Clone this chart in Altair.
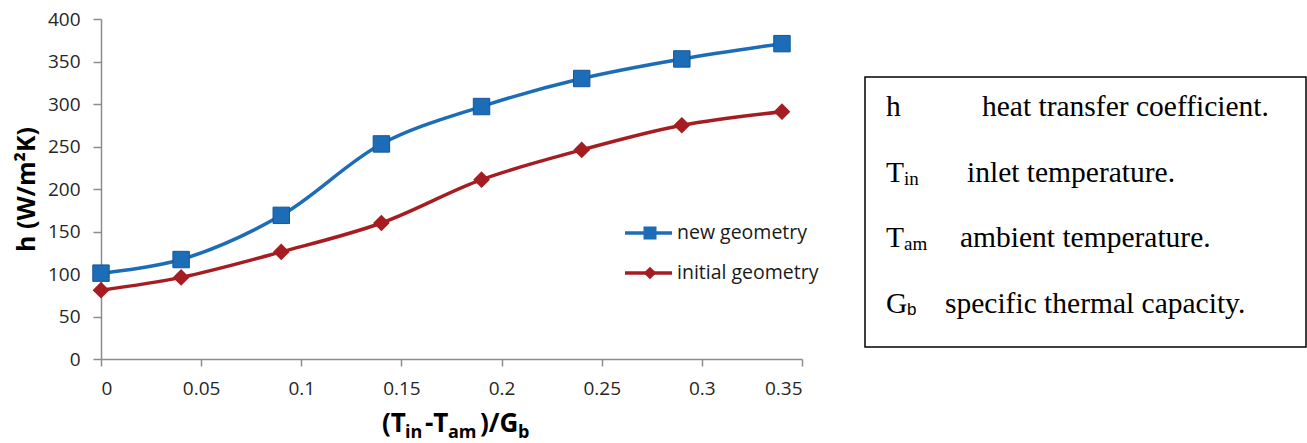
import altair as alt
import pandas as pd

# ---------------- data ----------------
x_vals = [0, 0.04, 0.09, 0.14, 0.19, 0.24, 0.29, 0.34]
h_new = [101, 117, 169, 253, 297, 330, 353, 371]
h_initial = [81, 96, 126, 160, 211, 246, 275, 291]
series_names = ["new geometry", "initial geometry"]
series_colors = ["#1c6cb8", "#a51d21"]
x_ticks = [0, 0.05, 0.1, 0.15, 0.2, 0.25, 0.3, 0.35]
y_ticks = [0, 50, 100, 150, 200, 250, 300, 350, 400]
y_title = "h (W/m\u00b2K)"
x_title_main = ["(T", "-T", ")/G"]
x_title_sub = ["in", "am", "b"]
box_symbols = ["h", "T", "T", "G"]
box_subs = ["", "in", "am", "b"]
box_desc = ["heat transfer coefficient.", "inlet temperature.",
            "ambient temperature.", "specific thermal capacity."]

df = pd.DataFrame({
    "x": x_vals + x_vals,
    "h": h_new + h_initial,
    "series": [series_names[0]] * len(x_vals) + [series_names[1]] * len(x_vals),
})

SANS = "Open Sans"
SERIF = "Liberation Serif"

xscale = alt.Scale(domain=[0, 0.35], nice=False, zero=False)
yscale = alt.Scale(domain=[0, 400], nice=False)
cscale = alt.Scale(domain=series_names, range=series_colors)

X = alt.X("x:Q", scale=xscale,
          axis=alt.Axis(values=x_ticks, format="~g", title=None, grid=False,
                        tickSize=7, labelPadding=13))
Y = alt.Y("h:Q", scale=yscale,
          axis=alt.Axis(values=y_ticks, title=y_title, grid=False,
                        tickSize=8, labelPadding=13, titlePadding=8))

base = alt.Chart(df)
lines = base.mark_line(strokeWidth=3.5, interpolate="catmull-rom").encode(
    x=X, y=Y, color=alt.Color("series:N", scale=cscale, legend=None))
pts_new = base.transform_filter(alt.datum.series == series_names[0]).mark_point(
    filled=True, shape="square", size=270, opacity=1,
    stroke="#14569a", strokeWidth=1).encode(
    x=X, y=Y, color=alt.Color("series:N", scale=cscale, legend=None))
pts_init = base.transform_filter(alt.datum.series == series_names[1]).mark_point(
    filled=True, shape="diamond", size=280, opacity=1).encode(
    x=X, y=Y, color=alt.Color("series:N", scale=cscale, legend=None))

one = pd.DataFrame({"k": [0]})


def txt(s, x, y, size, font, weight="normal", color="#000000"):
    return alt.Chart(one).mark_text(
        text=s, font=font, fontSize=size, fontWeight=weight, color=color,
        align="left", baseline="alphabetic").encode(
        x=alt.value(x), y=alt.value(y))


layers = [lines, pts_new, pts_init]

# legend (manual, inside plot)
leg_y = [214, 254]
leg_shapes = ["square", "diamond"]
leg_sizes = [170, 160]
for i in range(2):
    layers.append(alt.Chart(one).mark_rule(
        color=series_colors[i], strokeWidth=3.5).encode(
        x=alt.value(524), x2=alt.value(571), y=alt.value(leg_y[i])))
    layers.append(alt.Chart(one).mark_point(
        filled=True, shape=leg_shapes[i], size=leg_sizes[i],
        color=series_colors[i], opacity=1).encode(
        x=alt.value(549), y=alt.value(leg_y[i])))
    layers.append(alt.Chart(one).mark_text(
        text=series_names[i], font=SANS, fontSize=19.5, color="#1a1a1a",
        align="left", baseline="middle").encode(
        x=alt.value(576), y=alt.value(leg_y[i])))

# x-axis title with subscripts
main_x = [281, 324, 379]
sub_x = [304, 347, 417]
for i in range(3):
    layers.append(txt(x_title_main[i], main_x[i], 413, 26, SANS, "bold", "#000000"))
    layers.append(txt(x_title_sub[i], sub_x[i], 419, 18, SANS, "bold", "#000000"))

# explanatory box
layers.append(alt.Chart(one).mark_rect(
    fill="white", stroke="black", strokeWidth=1.5).encode(
    x=alt.value(764), x2=alt.value(1205), y=alt.value(58), y2=alt.value(328)))
row_y = [97, 163, 228, 294]
desc_x = [881, 866, 859, 844]
for i in range(4):
    layers.append(txt(box_symbols[i], 785, row_y[i], 29.5, SERIF))
    if box_subs[i]:
        if box_subs[i] == "b":
            layers.append(txt(box_subs[i], 806, row_y[i] + 2, 17, "Liberation Sans"))
        else:
            layers.append(txt(box_subs[i], 803, row_y[i] + 3, 19, SERIF))
    layers.append(txt(box_desc[i], desc_x[i], row_y[i], 29.5, SERIF))

chart = alt.layer(*layers).properties(
    width=701, height=340,
    autosize=alt.AutoSizeParams(type="none"),
    padding={"left": 101, "top": 19, "right": 505, "bottom": 84},
    background="white",
).configure_view(stroke=None).configure_axis(
    domainColor="#8c8c8c", domainWidth=1.5, tickColor="#8c8c8c", tickWidth=1.5,
    labelFont=SANS, labelFontSize=19, labelColor="#262626",
    titleFont=SANS, titleFontSize=25, titleFontWeight="bold", titleColor="#000000",
)

chart.save("out.html", embed_options={"renderer": "svg", "actions": False})
